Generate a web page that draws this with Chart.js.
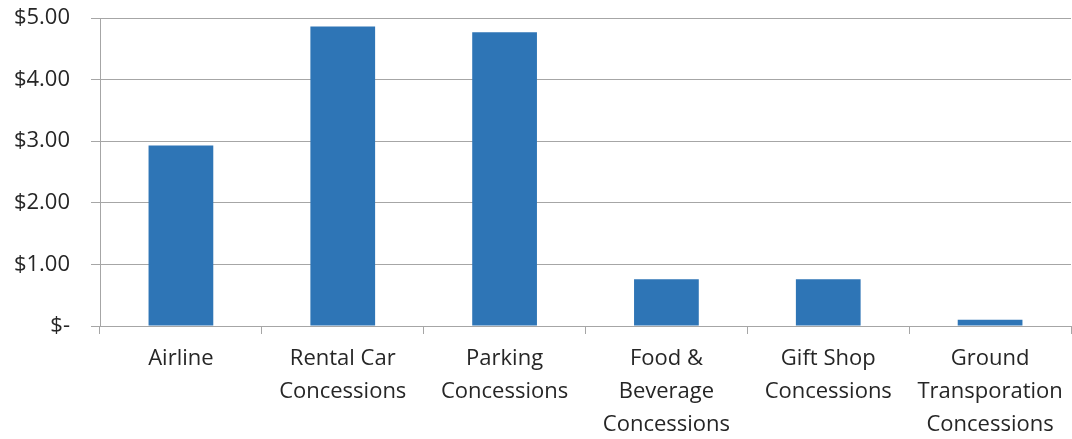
<!DOCTYPE html>
<html>
<head>
<meta charset="utf-8">
<script src="https://cdn.jsdelivr.net/npm/chart.js@4/dist/chart.umd.min.js"></script>
<style>
  html, body { margin: 0; padding: 0; background: #fff; }
  #wrap { width: 1072px; height: 439px; }
</style>
</head>
<body>
<div id="wrap"><canvas id="chart" width="1072" height="439"></canvas></div>
<script>
// --- data ---
const categories = [
  ['Airline'],
  ['Rental Car', 'Concessions'],
  ['Parking', 'Concessions'],
  ['Food &', 'Beverage', 'Concessions'],
  ['Gift Shop', 'Concessions'],
  ['Ground', 'Transporation', 'Concessions']
];
const revenuePerPax = [2.93, 4.86, 4.77, 0.76, 0.76, 0.10];
const yTicks = [0, 1, 2, 3, 4, 5];

const gridColor = '#A6A6A6';
const textColor = '#262626';

new Chart(document.getElementById('chart'), {
  type: 'bar',
  data: {
    labels: categories,
    datasets: [{
      data: revenuePerPax,
      backgroundColor: '#2E75B6',
      borderWidth: 0,
      barPercentage: 0.4,
      categoryPercentage: 1.0
    }]
  },
  options: {
    responsive: false,
    animation: false,
    layout: { padding: { top: 18, right: 1, left: 0, bottom: 0 } },
    plugins: { legend: { display: false }, tooltip: { enabled: false } },
    scales: {
      y: {
        min: 0,
        max: 5,
        afterBuildTicks: scale => { scale.ticks = yTicks.map(v => ({ value: v })); },
        afterFit: scale => {
          scale.width = 100;
          scale.paddingTop = 0;
          scale.paddingBottom = 0;
        },
        grid: { color: gridColor, lineWidth: 1, tickLength: 9 },
        border: { color: gridColor },
        ticks: {
          color: textColor,
          padding: 21,
          font: { family: 'Open Sans', size: 22 },
          callback: v => v === 0 ? '$-' : '$' + v.toFixed(2)
        }
      },
      x: {
        afterFit: scale => {
          scale.height = 113;
          scale.paddingLeft = 0;
          scale.paddingRight = 0;
        },
        grid: { display: true, drawOnChartArea: false, color: gridColor, tickLength: 8, offset: true },
        border: { color: gridColor },
        ticks: {
          color: textColor,
          maxRotation: 0,
          autoSkip: false,
          padding: 8,
          font: { family: 'Open Sans', size: 22, lineHeight: 1.5 }
        }
      }
    }
  }
});
</script>
</body>
</html>
